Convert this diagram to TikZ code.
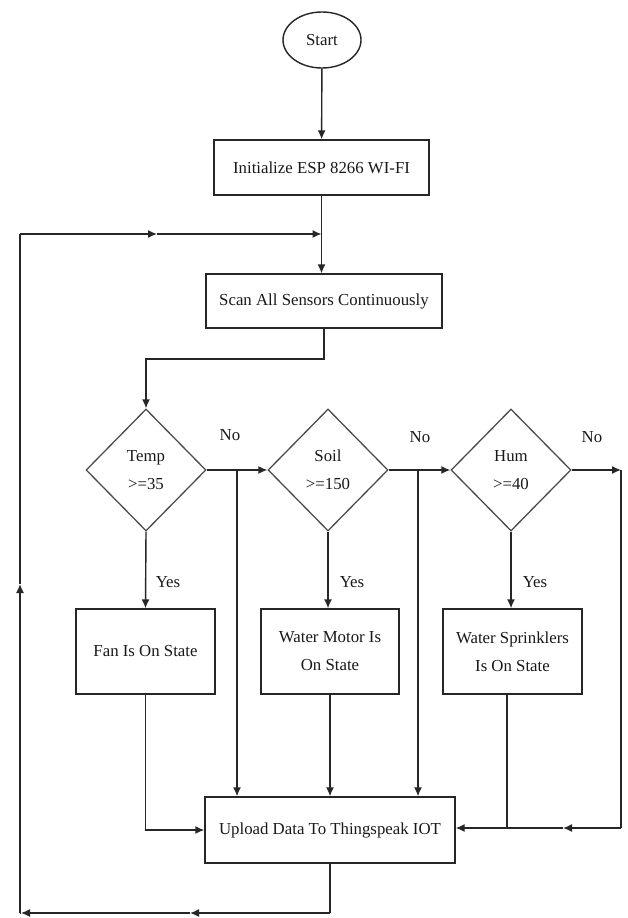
\documentclass[tikz,border=0pt]{standalone}
\usepackage{fontspec}
\setmainfont{Liberation Serif}
\usetikzlibrary{shapes.geometric,arrows.meta}
\begin{document}
\begin{tikzpicture}[x=1pt,y=1pt,
  every node/.style={font=\fontsize{16.8}{28}\selectfont, text=black!90},
  line/.style={draw=black!85, line width=1.4pt},
  arr/.style={line, -{Latex[length=9pt,width=8pt]}},
  box/.style={draw=black!85, line width=1.4pt, rectangle, inner sep=0pt, align=center},
  dia/.style={draw=black!70, line width=1.3pt, diamond, inner sep=0pt, minimum width=120pt, minimum height=122pt, align=center},
  lbl/.style={inner sep=0pt}]
\useasboundingbox (0,0) rectangle (627,-918);
\fill[white] (0,0) rectangle (627,-918);

% nodes
\node[draw=black!85, line width=1.4pt, ellipse, minimum width=78pt, minimum height=56pt, inner sep=0pt] (start) at (322,-40) {Start};
\node[box, minimum width=215pt, minimum height=55pt] (init) at (321.5,-167.5) {Initialize ESP 8266 WI-FI};
\node[box, minimum width=236pt, minimum height=54pt] (scan) at (324,-301) {Scan All Sensors Continuously};

\node[dia] (temp) at (146,-470) {Temp\\>=35};
\node[dia] (soil) at (328,-470) {Soil\\>=150};
\node[dia] (hum) at (511,-470) {Hum\\>=40};

\node[box, minimum width=139pt, minimum height=85pt] (fan) at (145.5,-651.5) {Fan Is On State};
\node[box, minimum width=138pt, minimum height=85pt] (motor) at (330,-651.5) {Water Motor Is\\On State};
\node[box, minimum width=139pt, minimum height=85pt] (spr) at (512.5,-651.5) {Water Sprinklers\\Is On State};

\node[box, minimum width=250pt, minimum height=66pt] (upload) at (330,-830) {Upload Data To Thingspeak IOT};

% labels
\node[lbl] (y1) at (168,-582) {Yes};
\node[lbl] (y2) at (352,-582) {Yes};
\node[lbl] (y3) at (535,-582) {Yes};
\node[lbl] (n1) at (230,-435) {No};
\node[lbl] (n2) at (420,-437) {No};
\node[lbl] (n3) at (592,-437) {No};

% coordinates
\coordinate (loopJ) at (init.south |- 0,-234);
\coordinate (loopM) at (157,-234);
\coordinate (loopTL) at (20,-234);
\coordinate (loopUp) at (20,-584);
\coordinate (loopBL) at (21,-913);
\coordinate (loopBM) at (190,-913);
\coordinate (loopB) at (upload.south |- 0,-913);
\coordinate (scanDown) at (scan.south |- 0,-359);
\coordinate (v1) at (237,-470);
\coordinate (v2) at (418,-470);
\coordinate (hr) at (621,-470);
\coordinate (hb) at (621,-828);
\coordinate (hm) at (563,-828);
\coordinate (sb) at ([xshift=-5.5pt]spr.south);

% connectors
\draw[arr] (start) -- (init);
\draw[arr] (init.south) -- (init.south |- scan.north);
\draw[arr] (scan.south) -- (scanDown) -| (temp.north);

\draw[arr] (temp.east) -- (soil.west);
\draw[arr] (soil.east) -- (hum.west);
\draw[arr] (hum.east) -- (hr);

\draw[arr] (temp.south) -- (fan.north);
\draw[arr] (soil.south) -- (soil.south |- motor.north);
\draw[arr] (hum.south) -- (hum.south |- spr.north);

\draw[arr] (v1) -- (v1 |- upload.north);
\draw[arr] (v2) -- (v2 |- upload.north);
\draw[arr] (motor.south) -- (motor.south |- upload.north);
\draw[arr] (fan.south) |- (upload.west);
\draw[line] (sb) -- (sb |- hb);
\draw[line] (hr) -- (hb);
\draw[arr] (hb) -- (hm);
\draw[arr] (hm) -- (upload.east |- hm);

% loop back
\draw[line] (upload.south) -- (loopB);
\draw[arr] (loopB) -- (loopBM);
\draw[arr] (loopBM) -- (loopBL);
\draw[line] (loopBL) -- (20,-913);
\draw[arr] (20,-913) -- (loopUp);
\draw[line] (loopUp) -- (loopTL);
\draw[arr] (loopTL) -- (loopM);
\draw[arr] (loopM) -- (loopJ);
\end{tikzpicture}
\end{document}
